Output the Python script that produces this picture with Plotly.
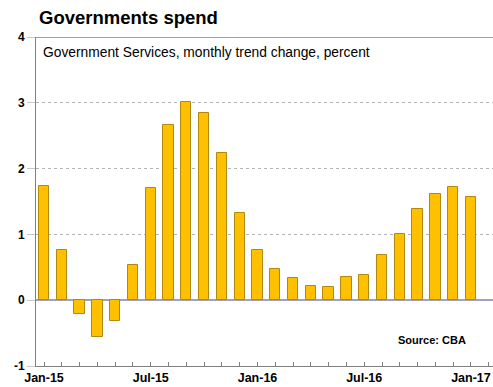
import plotly.graph_objects as go

# Monthly trend change in Government Services, Jan-15 .. Jan-17 (percent)
months = ["Jan-15", "Feb-15", "Mar-15", "Apr-15", "May-15", "Jun-15",
          "Jul-15", "Aug-15", "Sep-15", "Oct-15", "Nov-15", "Dec-15",
          "Jan-16", "Feb-16", "Mar-16", "Apr-16", "May-16", "Jun-16",
          "Jul-16", "Aug-16", "Sep-16", "Oct-16", "Nov-16", "Dec-16",
          "Jan-17"]
values = [1.73, 0.77, -0.21, -0.56, -0.32, 0.53,
          1.71, 2.66, 3.01, 2.84, 2.23, 1.32,
          0.77, 0.48, 0.33, 0.21, 0.2, 0.36,
          0.39, 0.68, 1.0, 1.38, 1.61, 1.72,
          1.57]
tick_labels = ["Jan-15", "Jul-15", "Jan-16", "Jul-16", "Jan-17"]
tick_positions = [months.index(t) for t in tick_labels]
y_ticks = [-1, 0, 1, 2, 3, 4]
y_tick_text = ["-1", "0", "1", "2", "3", "4"]

W, H = 493, 387
L, R, T, B = 36, 0, 37, 21
pw, ph = W - L - R, H - T - B

def px(x):
    return (x - L) / pw

def py(y):
    return 1 - (y - T) / ph

fig = go.Figure()
fig.add_trace(go.Bar(
    x=list(range(len(values))),
    y=values,
    width=0.58,
    marker=dict(color="#FFC000", line=dict(color="#B08A10", width=1)),
    hovertext=months,
))

fig.update_layout(
    width=W, height=H,
    margin=dict(l=L, r=R, t=T, b=B, pad=0),
    paper_bgcolor="white", plot_bgcolor="white",
    showlegend=False,
    font=dict(family="Arial, Liberation Sans, sans-serif", color="black"),
    bargap=0,
)

fig.update_xaxes(
    range=[-0.45, 25.24],
    tickvals=tick_positions, ticktext=tick_labels,
    tickfont=dict(size=12.5, family="Arial, Liberation Sans, sans-serif", weight="bold"),
    ticks="inside", ticklen=4, tickcolor="#808080",
    minor=dict(dtick=1, tick0=0, ticks="inside", ticklen=4, tickcolor="#808080"),
    showline=True, linecolor="#808080", linewidth=1,
    showgrid=False, zeroline=False,
)

fig.update_yaxes(
    range=[-1, 4], tickvals=y_ticks, ticktext=y_tick_text,
    tickfont=dict(size=12, family="Arial, Liberation Sans, sans-serif", weight="bold"),
    ticks="outside", ticklen=8, tickcolor="#C8C8C8",
    showline=True, linecolor="#808080", linewidth=1,
    showgrid=True, gridcolor="#B4B4B4", griddash="dot", gridwidth=1,
    zeroline=True, zerolinecolor="#A0A0C0", zerolinewidth=1.5,
)

# top border of the plot at y = 4
fig.add_shape(type="line", xref="paper", yref="y", x0=0, x1=1, y0=4, y1=4,
              line=dict(color="#A0A0A0", width=2))

fig.add_annotation(
    text="<b>Governments spend</b>", xref="paper", yref="paper",
    x=px(37), y=py(18), xanchor="left", yanchor="middle",
    showarrow=False, font=dict(size=18.5, color="black"),
)
fig.add_annotation(
    text="Government Services, monthly trend change, percent",
    xref="paper", yref="paper", x=px(41), y=py(52),
    xanchor="left", yanchor="middle", showarrow=False,
    font=dict(size=13.8, color="black"),
)
fig.add_annotation(
    text="<b>Source: CBA</b>", xref="paper", yref="paper",
    x=px(468), y=py(340), xanchor="right", yanchor="middle",
    showarrow=False, font=dict(size=11, color="black"),
)

fig.write_html("out.html")
